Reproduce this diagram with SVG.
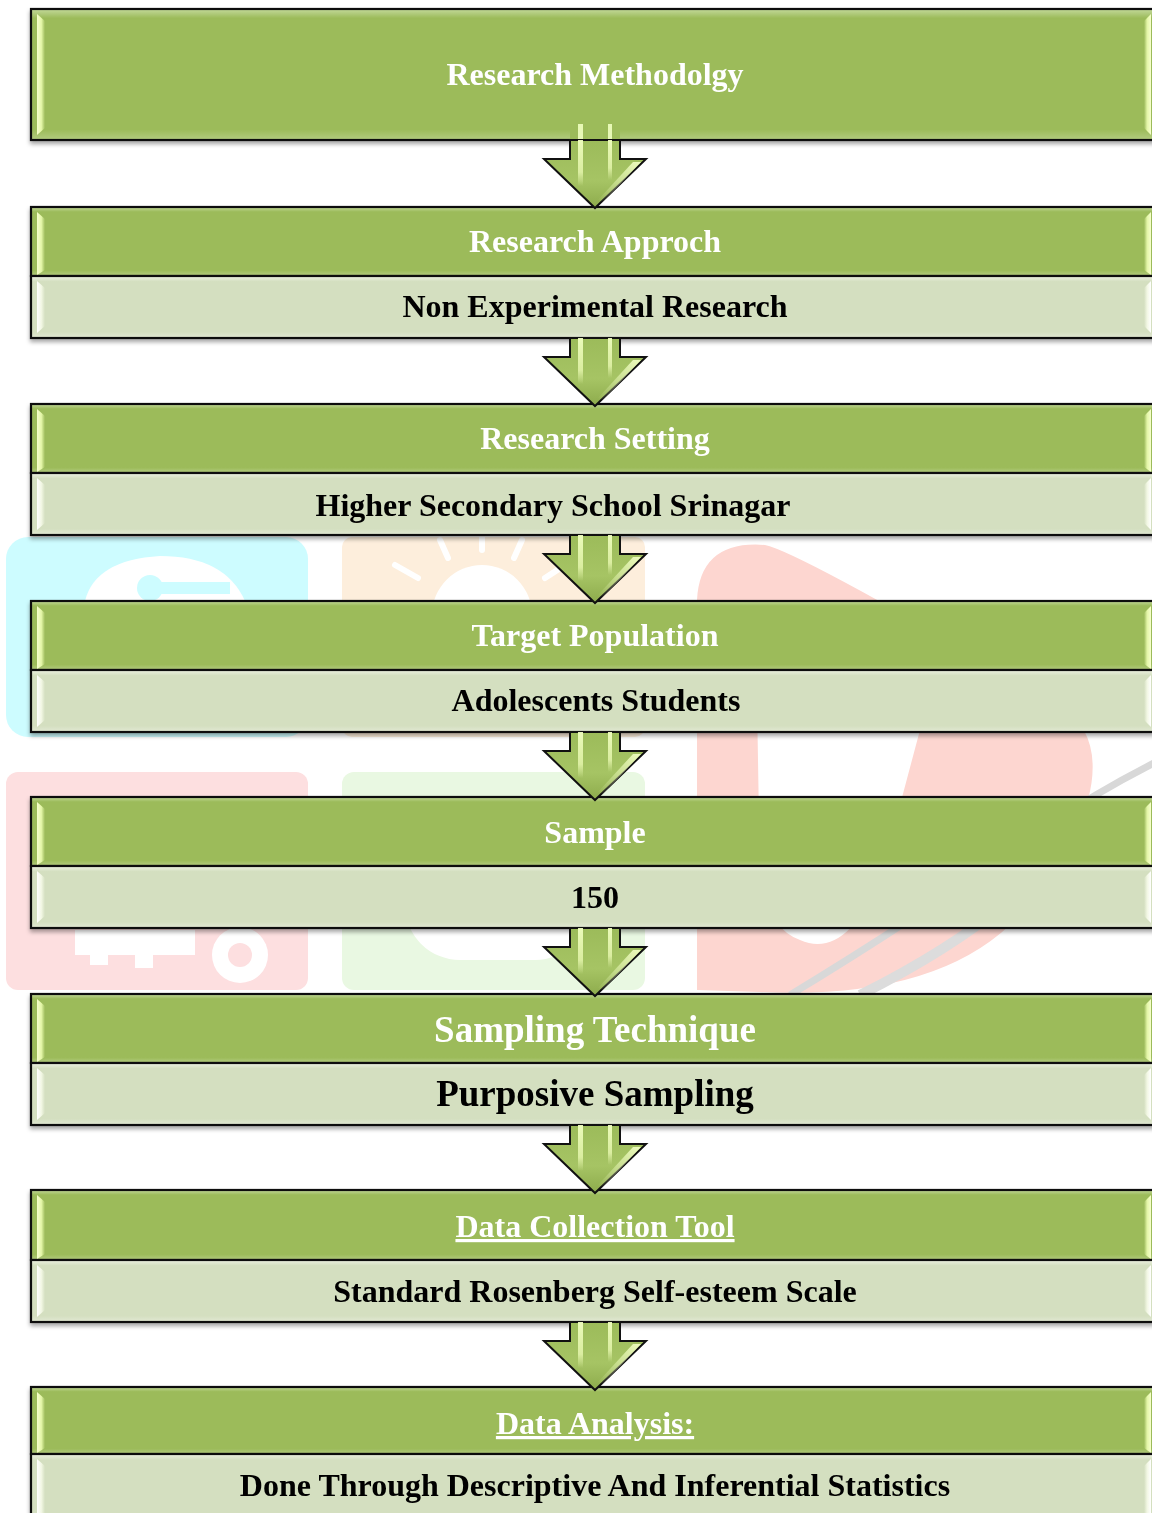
<svg xmlns="http://www.w3.org/2000/svg" xmlns:xlink="http://www.w3.org/1999/xlink" width="1152" height="1513" viewBox="0 0 1152 1513">
<defs>
<style>
.hdr{fill:url(#gH);stroke:#111;stroke-width:2.2}
.sub{fill:url(#gS);stroke:#111;stroke-width:2.2}
.bl{fill:url(#bevL)}
.bls{fill:url(#bevLs)}
.br{fill:url(#bevR)}
.brs{fill:url(#bevRs)}
.t{font-family:"Liberation Serif","Times New Roman",serif;font-weight:bold;font-size:32px;text-anchor:middle}
.tw{fill:#ffffff}
.tb{fill:#000000}
.big{font-size:37px}
.u{text-decoration:underline}
.wm{opacity:1}
</style>
<linearGradient id="gH" x1="0" y1="0" x2="0" y2="1">
<stop offset="0" stop-color="#c4da9c"/>
<stop offset="0.07" stop-color="#9cbb5a"/>
<stop offset="0.92" stop-color="#9cbb5a"/>
<stop offset="1" stop-color="#b3cc80"/>
</linearGradient>
<linearGradient id="gS" x1="0" y1="0" x2="0" y2="1">
<stop offset="0" stop-color="#edf2e3"/>
<stop offset="0.09" stop-color="#d4dfc0"/>
<stop offset="0.9" stop-color="#d4dfc0"/>
<stop offset="1" stop-color="#e2e9d4"/>
</linearGradient>
<linearGradient id="bevL" x1="0" y1="0" x2="1" y2="0">
<stop offset="0" stop-color="#f6ffcc"/>
<stop offset="0.55" stop-color="#e4f6a8"/>
<stop offset="1" stop-color="#9cbb5a"/>
</linearGradient>
<linearGradient id="bevLs" x1="0" y1="0" x2="1" y2="0">
<stop offset="0" stop-color="#ffffff"/>
<stop offset="0.55" stop-color="#f2f7e4"/>
<stop offset="1" stop-color="#d4dfc0"/>
</linearGradient>
<linearGradient id="bevR" x1="1" y1="0" x2="0" y2="0">
<stop offset="0" stop-color="#f6ffcc"/>
<stop offset="0.55" stop-color="#e4f6a8"/>
<stop offset="1" stop-color="#9cbb5a"/>
</linearGradient>
<linearGradient id="bevRs" x1="1" y1="0" x2="0" y2="0">
<stop offset="0" stop-color="#ffffff"/>
<stop offset="0.55" stop-color="#f2f7e4"/>
<stop offset="1" stop-color="#d4dfc0"/>
</linearGradient>
<linearGradient id="gA" x1="0" y1="0" x2="0" y2="1">
<stop offset="0" stop-color="#9cbb5a"/>
<stop offset="0.6" stop-color="#a6c464"/>
<stop offset="1" stop-color="#8dab4c"/>
</linearGradient>
<linearGradient id="gStripe" x1="0" y1="0" x2="0" y2="1">
<stop offset="0" stop-color="#f0ffc0" stop-opacity="0.95"/>
<stop offset="0.7" stop-color="#e8f8b0" stop-opacity="0.8"/>
<stop offset="1" stop-color="#e8f8b0" stop-opacity="0"/>
</linearGradient>
<linearGradient id="gStreak" x1="1" y1="0" x2="0" y2="1">
<stop offset="0" stop-color="#f2ffc4" stop-opacity="0.95"/>
<stop offset="1" stop-color="#f2ffc4" stop-opacity="0"/>
</linearGradient>
<filter id="sh" x="-5%" y="-20%" width="110%" height="140%">
<feDropShadow dx="0" dy="3" stdDeviation="2" flood-color="#000" flood-opacity="0.35"/>
</filter>
<g id="arrow">
<polygon points="-25,0 25,0 25,19 51,19 0,68 -51,19 -25,19" fill="url(#gA)" stroke="#111" stroke-width="2" stroke-linejoin="miter"/>
<rect x="-17" y="0" width="5" height="46" fill="url(#gStripe)"/>
<rect x="13" y="0" width="4" height="40" fill="url(#gStripe)"/>
<polygon points="38,22 46,22 8,62 3,60" fill="url(#gStreak)"/>
</g>
</defs>

<g id="watermark">
<rect x="6" y="537" width="302" height="200" rx="22" fill="#cdfcff"/>
<path d="M85 601 Q 95 560 160 556 Q 225 556 245 601 Z" fill="#ffffff"/>
<circle cx="150" cy="588" r="13" fill="#cdfcff"/>
<rect x="150" y="582" width="80" height="12" fill="#cdfcff"/>
<rect x="342" y="537" width="303" height="200" rx="10" fill="#fdeedc"/>
<circle cx="482" cy="615" r="50" fill="#ffffff"/>
<g stroke="#ffffff" stroke-width="6" stroke-linecap="round">
<line x1="395" y1="565" x2="418" y2="578"/>
<line x1="440" y1="540" x2="448" y2="558"/>
<line x1="482" y1="533" x2="482" y2="550"/>
<line x1="522" y1="540" x2="514" y2="558"/>
<line x1="565" y1="565" x2="545" y2="578"/>
</g>
<path d="M697 990 L697 600 Q700 540 765 545 Q800 552 1060 705 Q1105 735 1088 800 L1010 925 Q930 1000 760 992 Z" fill="#fdd6d0"/>
<path d="M757 700 L928 700 L880 880 Q845 960 800 940 Q770 930 760 880 Z" fill="#ffffff"/>
<path d="M790 995 Q930 910 1040 830 Q1100 790 1160 760" fill="none" stroke="#d8d8d8" stroke-width="7"/>
<path d="M860 995 Q950 950 1010 900" fill="none" stroke="#dcdcdc" stroke-width="10"/>
<rect x="6" y="772" width="302" height="218" rx="12" fill="#fddfe0"/>
<g fill="#ffffff">
<circle cx="240" cy="955" r="28"/>
<rect x="75" y="930" width="120" height="25"/>
<rect x="90" y="950" width="18" height="15"/>
<rect x="135" y="950" width="18" height="18"/>
</g>
<circle cx="240" cy="955" r="12" fill="#fddfe0"/>
<rect x="342" y="772" width="303" height="218" rx="12" fill="#e9f8e2"/>
<rect x="405" y="830" width="185" height="130" rx="55" fill="#ffffff"/>
</g>

<g id="nodes" filter="url(#sh)">
<g id="n1">
<rect class="hdr" x="31" y="9" width="1130" height="131"/>
<polygon class="bl" points="37,14 45,21 45,128 37,135"/>
<polygon class="br" points="1151,14 1144,21 1144,128 1151,135"/>
<text class="t tw" x="595" y="85">Research Methodolgy</text>
</g>
<g id="n2">
<rect class="hdr" x="31" y="207" width="1130" height="69"/>
<polygon class="bl" points="37,212 45,219 45,270 37,275"/>
<polygon class="br" points="1151,212 1144,219 1144,270 1151,275"/>
<rect class="sub" x="31" y="276" width="1130" height="62"/>
<polygon class="bls" points="37,281 45,288 45,326 37,333"/>
<polygon class="brs" points="1151,281 1144,288 1144,326 1151,333"/>
<text class="t tw" x="595" y="252">Research Approch</text>
<text class="t tb" x="595" y="317">Non Experimental Research</text>
</g>
<g id="n3">
<rect class="hdr" x="31" y="404" width="1130" height="69"/>
<polygon class="bl" points="37,409 45,416 45,467 37,472"/>
<polygon class="br" points="1151,409 1144,416 1144,467 1151,472"/>
<rect class="sub" x="31" y="473" width="1130" height="62"/>
<polygon class="bls" points="37,478 45,485 45,523 37,530"/>
<polygon class="brs" points="1151,478 1144,485 1144,523 1151,530"/>
<text class="t tw" x="595" y="449">Research Setting</text>
<text class="t tb" x="553" y="516">Higher Secondary School Srinagar</text>
</g>
<g id="n4">
<rect class="hdr" x="31" y="601" width="1130" height="69"/>
<polygon class="bl" points="37,606 45,613 45,664 37,669"/>
<polygon class="br" points="1151,606 1144,613 1144,664 1151,669"/>
<rect class="sub" x="31" y="670" width="1130" height="62"/>
<polygon class="bls" points="37,675 45,682 45,720 37,727"/>
<polygon class="brs" points="1151,675 1144,682 1144,720 1151,727"/>
<text class="t tw" x="595" y="646">Target Population</text>
<text class="t tb" x="596" y="711">Adolescents Students</text>
</g>
<g id="n5">
<rect class="hdr" x="31" y="797" width="1130" height="69"/>
<polygon class="bl" points="37,802 45,809 45,860 37,865"/>
<polygon class="br" points="1151,802 1144,809 1144,860 1151,865"/>
<rect class="sub" x="31" y="866" width="1130" height="62"/>
<polygon class="bls" points="37,871 45,878 45,916 37,923"/>
<polygon class="brs" points="1151,871 1144,878 1144,916 1151,923"/>
<text class="t tw" x="595" y="843">Sample</text>
<text class="t tb" x="595" y="908">150</text>
</g>
<g id="n6">
<rect class="hdr" x="31" y="994" width="1130" height="69"/>
<polygon class="bl" points="37,999 45,1006 45,1057 37,1062"/>
<polygon class="br" points="1151,999 1144,1006 1144,1057 1151,1062"/>
<rect class="sub" x="31" y="1063" width="1130" height="62"/>
<polygon class="bls" points="37,1068 45,1075 45,1113 37,1120"/>
<polygon class="brs" points="1151,1068 1144,1075 1144,1113 1151,1120"/>
<text class="t tw big" x="595" y="1042">Sampling Technique</text>
<text class="t tb big" x="595" y="1106">Purposive Sampling</text>
</g>
<g id="n7">
<rect class="hdr" x="31" y="1190" width="1130" height="70"/>
<polygon class="bl" points="37,1195 45,1202 45,1254 37,1259"/>
<polygon class="br" points="1151,1195 1144,1202 1144,1254 1151,1259"/>
<rect class="sub" x="31" y="1260" width="1130" height="62"/>
<polygon class="bls" points="37,1265 45,1272 45,1310 37,1317"/>
<polygon class="brs" points="1151,1265 1144,1272 1144,1310 1151,1317"/>
<text class="t tw u" x="595" y="1237">Data Collection Tool</text>
<text class="t tb" x="595" y="1302">Standard Rosenberg Self-esteem Scale</text>
</g>
<g id="n8">
<rect class="hdr" x="31" y="1387" width="1130" height="67"/>
<polygon class="bl" points="37,1392 45,1399 45,1448 37,1453"/>
<polygon class="br" points="1151,1392 1144,1399 1144,1448 1151,1453"/>
<rect class="sub" x="31" y="1454" width="1130" height="70"/>
<polygon class="bls" points="37,1459 45,1466 45,1520 37,1527"/>
<polygon class="brs" points="1151,1459 1144,1466 1144,1520 1151,1527"/>
<text class="t tw u" x="595" y="1434">Data Analysis:</text>
<text class="t tb" x="595" y="1496">Done Through Descriptive And Inferential Statistics</text>
</g>
</g>

<g id="connectors">
<rect x="570" y="124" width="50" height="16" fill="#9cbb5a"/>
<rect x="578" y="124" width="5" height="16" fill="#f0ffc0" opacity="0.9"/>
<rect x="608" y="124" width="4" height="16" fill="#f0ffc0" opacity="0.9"/>
<use xlink:href="#arrow" transform="translate(595,140)"/>
<use xlink:href="#arrow" transform="translate(595,338)"/>
<use xlink:href="#arrow" transform="translate(595,535)"/>
<use xlink:href="#arrow" transform="translate(595,732)"/>
<use xlink:href="#arrow" transform="translate(595,928)"/>
<use xlink:href="#arrow" transform="translate(595,1125)"/>
<use xlink:href="#arrow" transform="translate(595,1322)"/>
</g>
</svg>
